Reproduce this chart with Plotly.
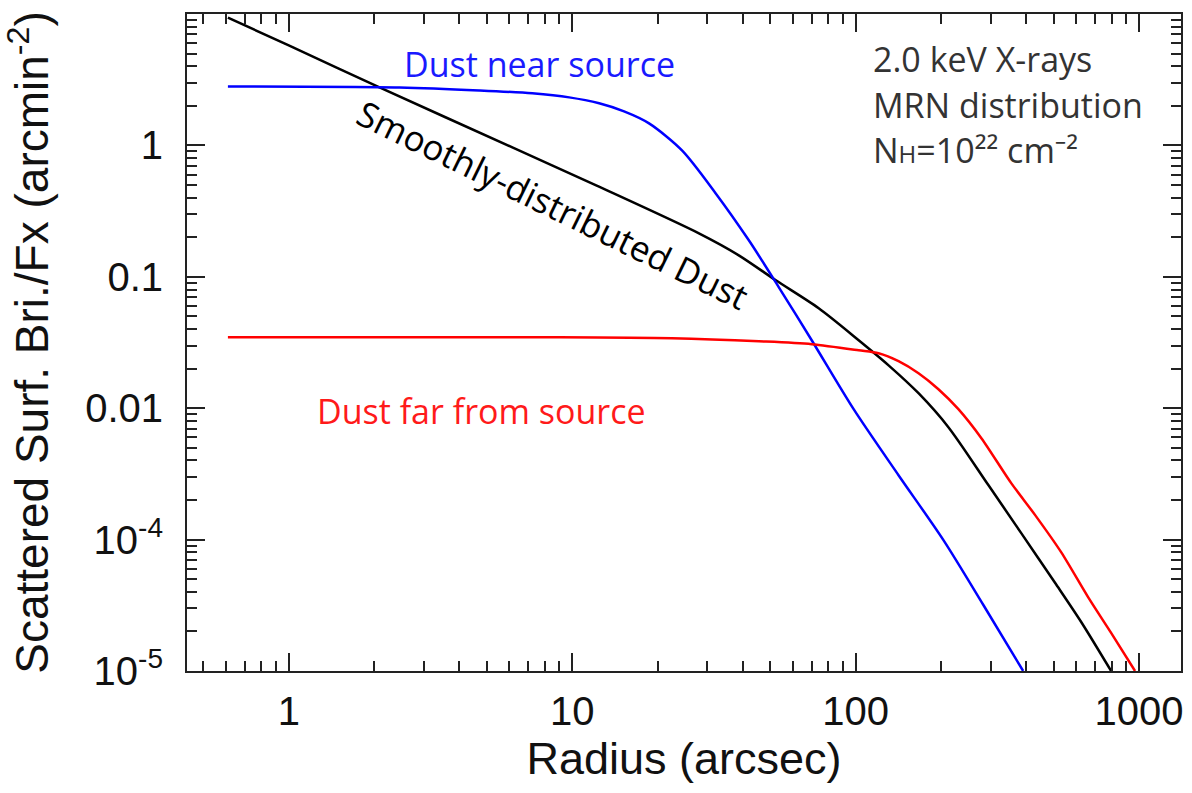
import plotly.graph_objects as go

# Radius (arcsec) and scattered surface brightness / Fx (arcmin^-2) for each dust geometry
smooth_r = [0.61, 1.0, 2.09, 6.15, 12.15, 28.0, 38.7, 52.3, 74.1, 102.5, 130.7, 166.7, 212.5,
            294, 384, 506, 625, 797]
smooth_sb = [9.40, 5.76, 2.76, 0.966, 0.496, 0.214, 0.1457, 0.094, 0.0576, 0.0329, 0.0212,
             0.0130, 0.00717, 0.00260, 0.00112, 0.000467, 0.000236, 0.0001]

near_r = [0.61, 2.46, 4.70, 7.23, 9.76, 12.45, 15.24, 18.67, 24.4, 32.1, 42.0, 53.6, 70.0,
          98.4, 141.7, 204.1, 282.3, 390]
near_sb = [2.81, 2.76, 2.62, 2.49, 2.32, 2.09, 1.814, 1.47, 0.916, 0.431, 0.1895, 0.0832,
           0.0329, 0.00983, 0.00309, 0.000991, 0.000318, 0.0001]

far_r = [0.61, 9.0, 22.5, 45.6, 70.0, 102.5, 120.5, 141.7, 166.7, 196.0, 230.5, 277.8, 354,
         430, 531, 661, 797, 968]
far_sb = [0.0347, 0.0347, 0.0341, 0.0323, 0.0307, 0.0276, 0.0262, 0.0228, 0.01846, 0.01395,
          0.00983, 0.00591, 0.00269, 0.001536, 0.000803, 0.000365, 0.000195, 0.0001]

# Axis ticks
x_tickvals = [1, 10, 100, 1000]
x_ticktext = ["1", "10", "100", "1000"]
y_tickvals = [1, 0.1, 0.01, 1e-3, 1e-4]
y_ticktext = ["1", "0.1", "0.01", "10<sup>-4</sup>", "10<sup>-5</sup>"]

x_minor = [d * 10.0 ** e for e in range(-1, 3) for d in range(2, 10) if d * 10.0 ** e > 0.43]
y_minor = [d * 10.0 ** e for e in range(-4, 1) for d in range(2, 10)]

AXIS_FONT = "Liberation Sans, Arial, Helvetica, sans-serif"
LABEL_FONT = "Open Sans, Noto Sans, sans-serif"
INK = "#222222"

fig = go.Figure()
for r, sb, color in [(smooth_r, smooth_sb, "#000000"),
                     (near_r, near_sb, "#0000ff"),
                     (far_r, far_sb, "#ff0000")]:
    fig.add_trace(go.Scatter(x=r, y=sb, mode="lines",
                             line=dict(color=color, width=2.5, shape="spline", smoothing=0.8),
                             showlegend=False, hoverinfo="skip"))

axis_common = dict(
    type="log", showgrid=False, zeroline=False,
    showline=True, linewidth=2, linecolor=INK, mirror="allticks",
    ticks="inside", ticklen=18, tickwidth=1.5, tickcolor=INK,
    tickfont=dict(family=AXIS_FONT, size=40, color="#111111"),
)

fig.update_xaxes(
    **axis_common,
    range=[-0.359, 3.148],
    tickmode="array", tickvals=x_tickvals, ticktext=x_ticktext,
    ticklabelstandoff=4,
    minor=dict(tickmode="array", tickvals=x_minor, ticks="inside", ticklen=10,
               tickwidth=1.5, tickcolor=INK, showgrid=False),
    title=dict(text="Radius (arcsec)", font=dict(family=AXIS_FONT, size=45, color="#111111"),
               standoff=4),
)
fig.update_yaxes(
    **axis_common,
    range=[-4, 1],
    tickmode="array", tickvals=y_tickvals, ticktext=y_ticktext,
    ticklabelstandoff=14,
    minor=dict(tickmode="array", tickvals=y_minor, ticks="inside", ticklen=10,
               tickwidth=1.5, tickcolor=INK, showgrid=False),
    title=dict(text="Scattered Surf. Bri./Fx (arcmin<sup>-2</sup>)",
               font=dict(family=AXIS_FONT, size=46, color="#111111"), standoff=24),
)

annotations = [
    dict(text="Dust near source", x=0.3544, y=0.9239, font=dict(color="#1a1aff", size=34)),
    dict(text="Dust far from source", x=0.2962, y=0.3957, font=dict(color="#ff1a1a", size=34)),
    dict(text="Smoothly-distributed Dust", x=0.3680, y=0.7093, textangle=26,
         font=dict(color="#000000", size=35)),
]
for a in annotations:
    a["font"]["family"] = LABEL_FONT
    fig.add_annotation(xref="paper", yref="paper", showarrow=False,
                       xanchor="center", yanchor="middle", **a)

# Simulation parameters, three left-aligned lines
info_lines = [
    ("2.0 keV X-rays", 0.931),
    ("MRN distribution", 0.862),
    ("N<span style='font-size:24px'>H</span>=10²² cm⁻²", 0.793),
]
for txt, yp in info_lines:
    fig.add_annotation(xref="paper", yref="paper", x=0.6877, y=yp, text=txt,
                       showarrow=False, xanchor="left", yanchor="middle", align="left",
                       font=dict(family=LABEL_FONT, size=34, color="#333333"))

fig.update_layout(
    width=1192, height=793,
    margin=dict(l=187, r=9, t=14, b=122),
    paper_bgcolor="white", plot_bgcolor="white",
    showlegend=False,
)

fig.write_html("out.html")
